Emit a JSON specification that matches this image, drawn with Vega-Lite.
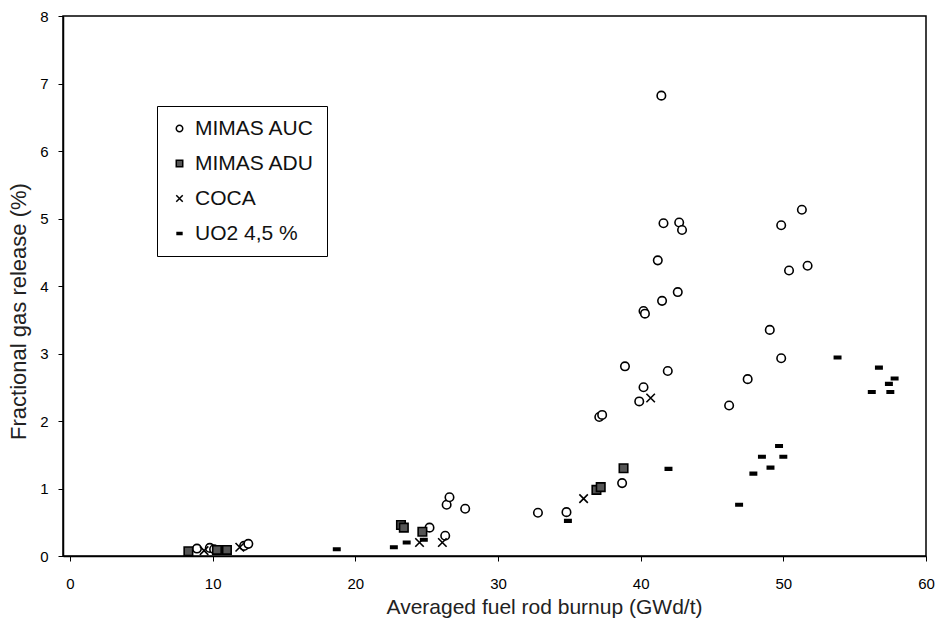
{
  "$schema": "https://vega.github.io/schema/vega-lite/v6.json",
  "width": 863,
  "height": 540,
  "autosize": {"type": "none"},
  "padding": {"left": 63, "top": 16, "right": 24, "bottom": 66},
  "background": "white",
  "config": {
    "font": "Liberation Sans",
    "view": {"stroke": "black", "strokeWidth": 1.5},
    "axis": {"grid": false, "domainColor": "black", "tickColor": "black", "labelColor": "black", "titleColor": "#222", "labelFont": "Liberation Sans", "titleFont": "Liberation Sans"}
  },
  "data": {
    "values": [
      {"series": "MIMAS AUC", "burnup": 41.45, "fgr": 6.82},
      {"series": "MIMAS AUC", "burnup": 41.6, "fgr": 4.93},
      {"series": "MIMAS AUC", "burnup": 42.7, "fgr": 4.94},
      {"series": "MIMAS AUC", "burnup": 42.9, "fgr": 4.83},
      {"series": "MIMAS AUC", "burnup": 41.2, "fgr": 4.38},
      {"series": "MIMAS AUC", "burnup": 42.6, "fgr": 3.91},
      {"series": "MIMAS AUC", "burnup": 41.5, "fgr": 3.78},
      {"series": "MIMAS AUC", "burnup": 40.2, "fgr": 3.63},
      {"series": "MIMAS AUC", "burnup": 40.3, "fgr": 3.59},
      {"series": "MIMAS AUC", "burnup": 38.9, "fgr": 2.81},
      {"series": "MIMAS AUC", "burnup": 41.9, "fgr": 2.74},
      {"series": "MIMAS AUC", "burnup": 40.2, "fgr": 2.5},
      {"series": "MIMAS AUC", "burnup": 39.9, "fgr": 2.29},
      {"series": "MIMAS AUC", "burnup": 37.1, "fgr": 2.06},
      {"series": "MIMAS AUC", "burnup": 37.3, "fgr": 2.09},
      {"series": "MIMAS AUC", "burnup": 46.2, "fgr": 2.23},
      {"series": "MIMAS AUC", "burnup": 47.5, "fgr": 2.62},
      {"series": "MIMAS AUC", "burnup": 49.05, "fgr": 3.35},
      {"series": "MIMAS AUC", "burnup": 49.85, "fgr": 2.93},
      {"series": "MIMAS AUC", "burnup": 49.85, "fgr": 4.9},
      {"series": "MIMAS AUC", "burnup": 50.4, "fgr": 4.23},
      {"series": "MIMAS AUC", "burnup": 51.3, "fgr": 5.13},
      {"series": "MIMAS AUC", "burnup": 51.7, "fgr": 4.3},
      {"series": "MIMAS AUC", "burnup": 38.7, "fgr": 1.08},
      {"series": "MIMAS AUC", "burnup": 34.8, "fgr": 0.65},
      {"series": "MIMAS AUC", "burnup": 32.8, "fgr": 0.64},
      {"series": "MIMAS AUC", "burnup": 27.7, "fgr": 0.7},
      {"series": "MIMAS AUC", "burnup": 26.4, "fgr": 0.76},
      {"series": "MIMAS AUC", "burnup": 26.6, "fgr": 0.87},
      {"series": "MIMAS AUC", "burnup": 26.3, "fgr": 0.3},
      {"series": "MIMAS AUC", "burnup": 25.2, "fgr": 0.42},
      {"series": "MIMAS AUC", "burnup": 8.9, "fgr": 0.11},
      {"series": "MIMAS AUC", "burnup": 9.8, "fgr": 0.12},
      {"series": "MIMAS AUC", "burnup": 10.1, "fgr": 0.1},
      {"series": "MIMAS AUC", "burnup": 12.2, "fgr": 0.15},
      {"series": "MIMAS AUC", "burnup": 12.5, "fgr": 0.18},
      {"series": "MIMAS ADU", "burnup": 8.3, "fgr": 0.07},
      {"series": "MIMAS ADU", "burnup": 10.3, "fgr": 0.09},
      {"series": "MIMAS ADU", "burnup": 11.0, "fgr": 0.09},
      {"series": "MIMAS ADU", "burnup": 23.2, "fgr": 0.46},
      {"series": "MIMAS ADU", "burnup": 23.4, "fgr": 0.42},
      {"series": "MIMAS ADU", "burnup": 24.7, "fgr": 0.36},
      {"series": "MIMAS ADU", "burnup": 36.9, "fgr": 0.98},
      {"series": "MIMAS ADU", "burnup": 37.2, "fgr": 1.02},
      {"series": "MIMAS ADU", "burnup": 38.8, "fgr": 1.3},
      {"series": "COCA", "burnup": 9.4, "fgr": 0.08},
      {"series": "COCA", "burnup": 11.9, "fgr": 0.13},
      {"series": "COCA", "burnup": 24.5, "fgr": 0.2},
      {"series": "COCA", "burnup": 26.1, "fgr": 0.2},
      {"series": "COCA", "burnup": 36.0, "fgr": 0.85},
      {"series": "COCA", "burnup": 40.7, "fgr": 2.34},
      {"series": "UO2 4,5 %", "burnup": 18.7, "fgr": 0.1},
      {"series": "UO2 4,5 %", "burnup": 22.7, "fgr": 0.13},
      {"series": "UO2 4,5 %", "burnup": 23.6, "fgr": 0.2},
      {"series": "UO2 4,5 %", "burnup": 24.8, "fgr": 0.24},
      {"series": "UO2 4,5 %", "burnup": 34.9, "fgr": 0.52},
      {"series": "UO2 4,5 %", "burnup": 41.95, "fgr": 1.29},
      {"series": "UO2 4,5 %", "burnup": 46.9, "fgr": 0.76},
      {"series": "UO2 4,5 %", "burnup": 47.9, "fgr": 1.22},
      {"series": "UO2 4,5 %", "burnup": 48.5, "fgr": 1.47},
      {"series": "UO2 4,5 %", "burnup": 49.1, "fgr": 1.31},
      {"series": "UO2 4,5 %", "burnup": 49.7, "fgr": 1.63},
      {"series": "UO2 4,5 %", "burnup": 50.0, "fgr": 1.47},
      {"series": "UO2 4,5 %", "burnup": 53.8, "fgr": 2.94},
      {"series": "UO2 4,5 %", "burnup": 56.2, "fgr": 2.43},
      {"series": "UO2 4,5 %", "burnup": 56.7, "fgr": 2.79},
      {"series": "UO2 4,5 %", "burnup": 57.4, "fgr": 2.55},
      {"series": "UO2 4,5 %", "burnup": 57.5, "fgr": 2.43},
      {"series": "UO2 4,5 %", "burnup": 57.8, "fgr": 2.63}
    ]
  },
  "mark": {"type": "point", "size": 72, "strokeWidth": 1.6, "opacity": 1},
  "encoding": {
    "x": {
      "field": "burnup", "type": "quantitative",
      "scale": {"domain": [-0.49, 60], "nice": false, "zero": false},
      "axis": {"values": [0, 10, 20, 30, 40, 50, 60], "title": "Averaged fuel rod burnup (GWd/t)", "titleFontSize": 21, "titleFontWeight": "normal", "titlePadding": 5, "titleX": 481, "labelFontSize": 15, "labelPadding": 15, "tickSize": 5, "domainWidth": 1.5, "labelFlush": false}
    },
    "y": {
      "field": "fgr", "type": "quantitative",
      "scale": {"domain": [0, 8], "nice": false},
      "axis": {"values": [0, 1, 2, 3, 4, 5, 6, 7, 8], "title": "Fractional gas release (%)", "titleFontSize": 22, "titleFontWeight": "normal", "titlePadding": 9, "titleY": 295, "labelFontSize": 15, "labelPadding": 10, "tickSize": 5, "domainWidth": 1.5}
    },
    "shape": {
      "field": "series", "type": "nominal",
      "scale": {
        "domain": ["MIMAS AUC", "MIMAS ADU", "COCA", "UO2 4,5 %"],
        "range": ["circle", "square", "M-1,-1L1,1M-1,1L1,-1", "M-0.75,-0.3H0.75V0.3H-0.75Z"]
      },
      "legend": {
        "orient": "none", "legendX": 94, "legendY": 90, "title": null,
        "strokeColor": "black", "fillColor": "white", "padding": 12,
        "labelFontSize": 21, "labelColor": "#111", "symbolSize": 42,
        "symbolStrokeWidth": 1.5,
        "rowPadding": 13, "labelOffset": 5, "labelLimit": 250
      }
    },
    "fill": {
      "field": "series", "type": "nominal",
      "scale": {
        "domain": ["MIMAS AUC", "MIMAS ADU", "COCA", "UO2 4,5 %"],
        "range": ["white", "#555555", "transparent", "black"]
      },
      "legend": {
        "orient": "none", "legendX": 94, "legendY": 90, "title": null,
        "strokeColor": "black", "fillColor": "white", "padding": 12,
        "labelFontSize": 21, "labelColor": "#111", "symbolSize": 42,
        "symbolStrokeWidth": 1.5,
        "rowPadding": 13, "labelOffset": 5, "labelLimit": 250
      }
    },
    "stroke": {
      "field": "series", "type": "nominal",
      "scale": {
        "domain": ["MIMAS AUC", "MIMAS ADU", "COCA", "UO2 4,5 %"],
        "range": ["black", "black", "black", "black"]
      },
      "legend": {
        "orient": "none", "legendX": 94, "legendY": 90, "title": null,
        "strokeColor": "black", "fillColor": "white", "padding": 12,
        "labelFontSize": 21, "labelColor": "#111", "symbolSize": 42,
        "symbolStrokeWidth": 1.5,
        "rowPadding": 13, "labelOffset": 5, "labelLimit": 250
      }
    }
  }
}
